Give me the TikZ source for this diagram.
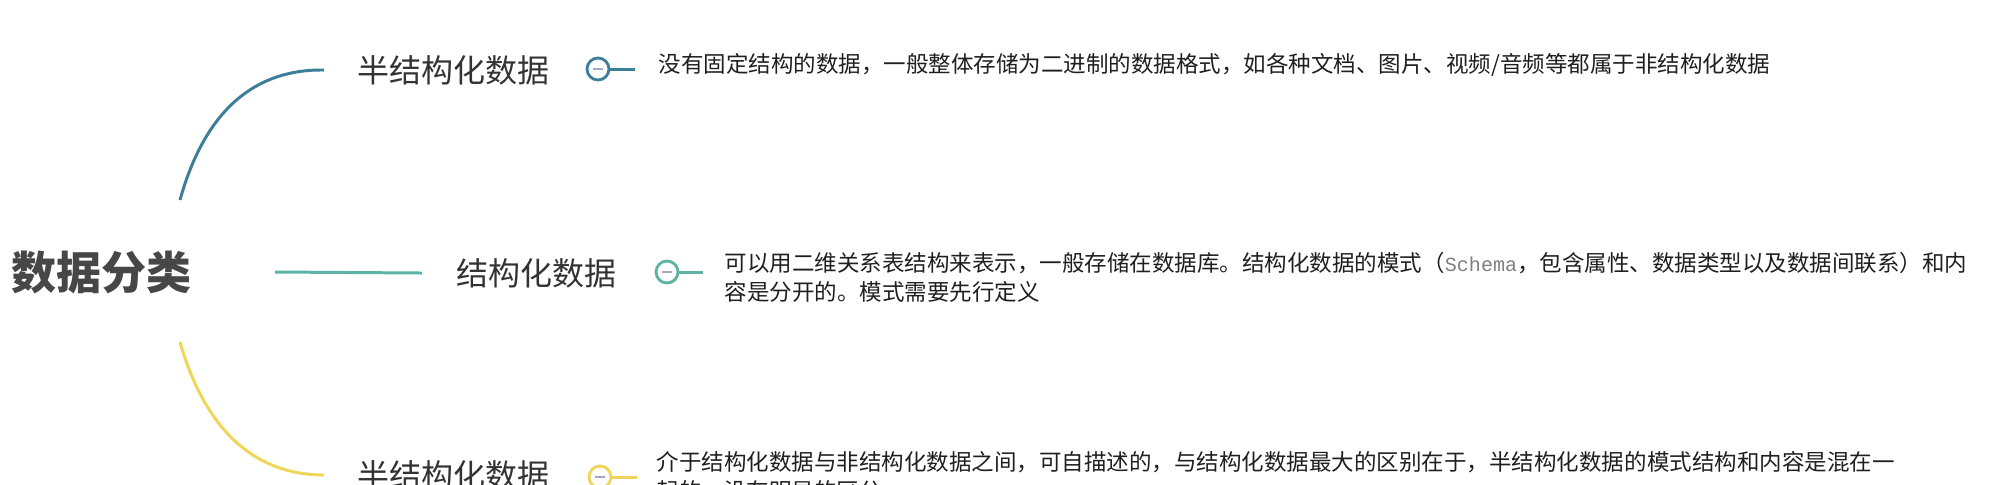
\documentclass[tikz,border=0pt]{standalone}
\usepackage{fontspec}
\setmainfont{Noto Sans CJK SC}
\newfontfamily\codefont{Liberation Mono}
\usepackage{tikz}
\usetikzlibrary{positioning}
\definecolor{topblue}{HTML}{3D7E98}
\definecolor{midgreen}{HTML}{5AB3A4}
\definecolor{botyellow}{HTML}{F0D658}
\definecolor{minusgray}{HTML}{A6A6C8}
\tikzset{
    root/.style={font=\fontsize{12.8pt}{14pt}\selectfont\bfseries, text=black!72, inner sep=0pt},
    topic/.style={font=\fontsize{9.1pt}{11pt}\selectfont, text=black!80, inner sep=0pt},
    desc/.style={font=\fontsize{6.4pt}{8.25pt}\selectfont, text=black!88, align=left, inner sep=0pt, anchor=north west},
    fold/.style={circle, draw=#1, line width=0.8pt, fill=white, minimum size=0.22cm, inner sep=0pt,
        path picture={\draw[minusgray, line width=0.6pt] ([xshift=-1.3pt]path picture bounding box.center) -- ([xshift=1.3pt]path picture bounding box.center);}},
    branch/.style={draw=#1, line width=0.85pt}
}

\begin{document}
\begin{tikzpicture}[x=0.01cm, y=-0.01cm]
    \useasboundingbox (0,0) rectangle (1992,484);

    \node[root, anchor=west] (root) at (11,272) {数据分类};
    \coordinate (rootN) at (180,200);
    \coordinate (rootE) at (275,272);
    \coordinate (rootS) at (180,342);

    % topics
    \node[topic, anchor=west] (semi) at (357,70) {半结构化数据};
    \node[topic, anchor=west] (struct) at (456,273) {结构化数据};
    \node[topic, anchor=west] (semib) at (357,475) {半结构化数据};

    \draw[branch=topblue] (rootN) .. controls (205,110) and (255,69) .. ([xshift=-0.33cm]semi.west);
    \draw[branch=midgreen] (rootE) -- ([xshift=-0.34cm]struct.west);
    \draw[branch=botyellow] (rootS) .. controls (205,430) and (255,475) .. ([xshift=-0.33cm]semib.west);

    % fold markers
    \node[fold=topblue] (f1) at (598,69) {};
    \node[fold=midgreen] (f2) at (667,272) {};
    \node[fold=botyellow] (f3) at (600,477) {};
    \draw[branch=topblue] (f1.east) -- ++(25,0) coordinate (e1);
    \draw[branch=midgreen] (f2.east) -- ++(24,0) coordinate (e2);
    \draw[branch=botyellow] (f3.east) -- ++(25,0) coordinate (e3);

    % notes
    \node[desc] (d1) at (658,53) {没有固定结构的数据，一般整体存储为二进制的数据格式，如各种文档、图片、视频/音频等都属于非结构化数据};
    \node[desc] (d2) at (724,252) {可以用二维关系表结构来表示，一般存储在数据库。结构化数据的模式（{\codefont\fontsize{5.7pt}{8.25pt}\selectfont\color{gray}Schema}，包含属性、数据类型以及数据间联系）和内\\容是分开的。模式需要先行定义};
    \node[desc] (d3) at (656,451) {介于结构化数据与非结构化数据之间，可自描述的，与结构化数据最大的区别在于，半结构化数据的模式结构和内容是混在一\\起的，没有明显的区分。};
\end{tikzpicture}
\end{document}
